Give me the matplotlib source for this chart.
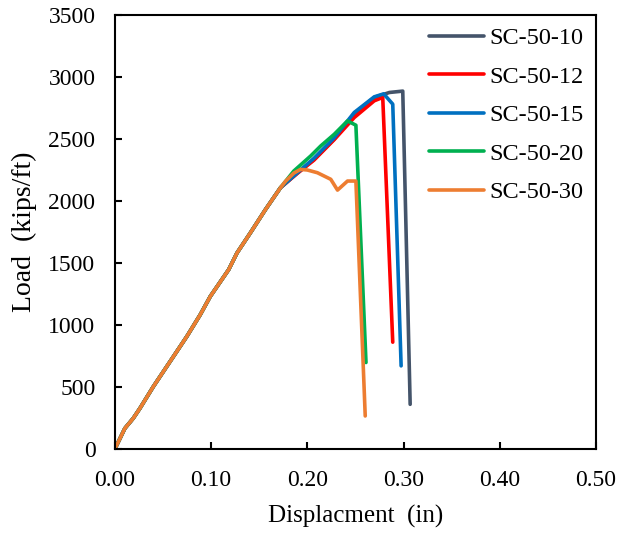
import numpy as np
import matplotlib
matplotlib.use("Agg")
import matplotlib.pyplot as plt

plt.rcParams['font.family'] = ['Liberation Serif', 'DejaVu Serif']

# shared elastic branch (all specimens overlap here)
ramp_x = [0.0, 0.0104, 0.0191, 0.0261, 0.040, 0.0574, 0.0748, 0.0887, 0.0992,
          0.1183, 0.127, 0.1409, 0.1566, 0.1722]
ramp_y = [0, 167, 248, 329, 504, 706, 908, 1083, 1231,
          1447, 1582, 1744, 1932, 2108]

# post-ramp branches
sc10_x = [0.19, 0.207, 0.228, 0.2488, 0.2696, 0.2794, 0.2853, 0.2992, 0.3069]
sc10_y = [2228, 2335, 2500, 2705, 2835, 2860, 2875, 2886, 361]
sc12_x = [0.19, 0.207, 0.228, 0.2488, 0.2696, 0.2784, 0.2888]
sc12_y = [2225, 2330, 2495, 2673, 2808, 2835, 862]
sc15_x = [0.19, 0.207, 0.228, 0.2488, 0.2696, 0.2794, 0.2888, 0.2975]
sc15_y = [2230, 2345, 2510, 2714, 2840, 2864, 2781, 671]
sc20_x = [0.186, 0.2035, 0.214, 0.228, 0.2418, 0.2505, 0.261]
sc20_y = [2242, 2363, 2444, 2538, 2646, 2611, 698]
sc30_x = [0.1775, 0.186, 0.193, 0.2, 0.2105, 0.2244, 0.2314, 0.2418, 0.2505, 0.2602]
sc30_y = [2160, 2225, 2255, 2250, 2228, 2175, 2088, 2161, 2161, 267]

labels = ['SC-50-10', 'SC-50-12', 'SC-50-15', 'SC-50-20', 'SC-50-30']
colors = ['#44546A', '#FF0000', '#0070C0', '#00B050', '#ED7D31']
tails = [(sc10_x, sc10_y), (sc12_x, sc12_y), (sc15_x, sc15_y),
         (sc20_x, sc20_y), (sc30_x, sc30_y)]

fig = plt.figure(figsize=(6.31, 5.34), dpi=100)
ax = fig.add_axes([0.182, 0.159, 0.7625, 0.813])

for lab, col, (tx, ty) in zip(labels, colors, tails):
    xs = np.concatenate([ramp_x, tx])
    ys = np.concatenate([ramp_y, ty])
    ax.plot(xs, ys, color=col, lw=2.6, label=lab, solid_capstyle='round')

ax.set_xlim(0, 0.5)
ax.set_ylim(0, 3500)
ax.set_xticks(np.arange(0, 0.51, 0.1))
ax.set_xticklabels([f'{v:.2f}' for v in np.arange(0, 0.51, 0.1)])
ax.set_yticks(np.arange(0, 3501, 500))
ax.tick_params(direction='in', length=5, width=1.5, labelsize=17)
ax.tick_params(axis='x', pad=15)
ax.tick_params(axis='y', pad=14)
for s in ax.spines.values():
    s.set_linewidth(1.5)

ax.set_xlabel('Displacment  (in)', fontsize=18, labelpad=10)
ax.set_ylabel('Load  (kips/ft)', fontsize=20, labelpad=8)

ax.legend(loc='upper right', bbox_to_anchor=(1.0, 1.0), frameon=False,
          fontsize=17.5, handlelength=2.25, handletextpad=0.25, labelspacing=0.68,
          borderaxespad=0.1)

fig.savefig('out.png', dpi=100)
